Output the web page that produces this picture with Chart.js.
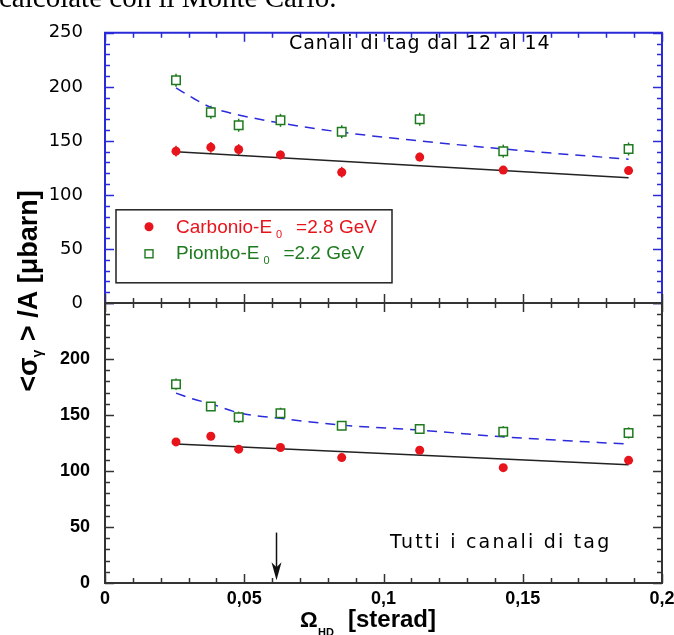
<!DOCTYPE html>
<html>
<head>
<meta charset="utf-8">
<script src="https://cdn.jsdelivr.net/npm/chart.js@4.4.1/dist/chart.umd.min.js"></script>
<style>
    html, body { margin: 0; padding: 0; background: #fff; }
    #wrap { position: relative; width: 674px; height: 635px; overflow: hidden; }
    #wrap canvas { position: absolute; left: 0; top: 0; }
</style>
</head>
<body>
<div id="wrap">
    <canvas id="topChart" width="674" height="635" style="width:674px;height:635px"></canvas>
    <canvas id="botChart" width="674" height="635" style="width:674px;height:635px"></canvas>
</div>
<script>
// solid angle of the detector (x values, shared by both panels)
var omega = [0.0255, 0.038, 0.048, 0.063, 0.085, 0.113, 0.143, 0.188];

// top panel: tag channels 12..14
var carbTop = [140.5, 144, 142, 137, 121, 135, 123, 122.5];
var carbTopErr = [5, 5, 5, 4, 5, 4, 3, 3];
var piomTop = [206, 176.5, 164.5, 169, 158.5, 170, 140.5, 142.5];
var piomTopErr = [6, 6, 6, 6, 6, 6, 6, 6];

// bottom panel: all tag channels
var carbBot = [126, 131, 119.5, 121, 112, 118.5, 103, 109.5];
var carbBotErr = [2, 2, 2, 2, 2, 2, 2, 2];
var piomBot = [177.5, 157.5, 148, 151.5, 140.5, 137.5, 135, 134];
var piomBotErr = [5, 4, 5, 5, 4, 4, 5, 5];

// fit curves
var fitLinX = [0.0255, 0.188];
var fitCarbTop = [140, 116];
var fitCarbBot = [124, 105.5];
var fitX = [0.0255, 0.032, 0.038, 0.048, 0.063, 0.085, 0.113, 0.143, 0.188];
var fitPiomTop = [199, 189, 181, 174, 166.5, 158, 150, 142.5, 133];
var fitPiomBot = [169.5, 164, 160, 152, 147, 141, 136.5, 130.5, 124];

var yTicks = [0, 50, 100, 150, 200, 250];
var xTicks = [0, 0.05, 0.1, 0.15, 0.2];

var RED = '#e8141c';
var GREEN = '#1f7a1f';
var BLUE = '#2b2bdc';
var AXIS_BLUE = '#2a2ad8';
var DARK = '#333333';

function pts(xs, ys) {
    return xs.map(function (x, i) { return { x: x, y: ys[i] }; });
}

function fmtX(v) {
    if (v === 0) return '0';
    return String(Math.round(v * 100) / 100).replace('.', ',');
}

function line(ctx, x1, y1, x2, y2) {
    ctx.beginPath();
    ctx.moveTo(x1, y1);
    ctx.lineTo(x2, y2);
    ctx.stroke();
}

// frame + inward ticks; col = {left, top, right, bottom}
function drawFrame(chart, col) {
    var ctx = chart.ctx, a = chart.chartArea;
    var xs = chart.scales.x, ys = chart.scales.y;
    ctx.save();
    ctx.lineWidth = 2;
    ctx.strokeStyle = col.left; line(ctx, a.left, a.top, a.left, a.bottom);
    ctx.strokeStyle = col.right; line(ctx, a.right, a.top, a.right, a.bottom);
    ctx.strokeStyle = col.top; line(ctx, a.left - 1, a.top, a.right + 1, a.top);
    ctx.strokeStyle = col.bottom; line(ctx, a.left - 1, a.bottom, a.right + 1, a.bottom);

    ctx.lineWidth = 1.5;
    for (var v = 0; v <= 250; v += 10) {
        var py = Math.round(ys.getPixelForValue(v)) + 0.5;
        var len = v % 50 === 0 ? 9 : 5;
        ctx.strokeStyle = col.left; line(ctx, a.left, py, a.left + len, py);
        ctx.strokeStyle = col.right; line(ctx, a.right, py, a.right - len, py);
    }
    for (var i = 0; i <= 20; i++) {
        var px = Math.round(xs.getPixelForValue(i / 100)) + 0.5;
        var l2 = i % 5 === 0 ? 9 : 5;
        ctx.strokeStyle = col.top; line(ctx, px, a.top, px, a.top + l2);
        ctx.strokeStyle = col.bottom; line(ctx, px, a.bottom, px, a.bottom - l2);
    }
    ctx.restore();
}

function drawErrors(chart, sets) {
    var ctx = chart.ctx, xs = chart.scales.x, ys = chart.scales.y;
    ctx.save();
    ctx.lineWidth = 1.5;
    sets.forEach(function (s) {
        ctx.strokeStyle = s.color;
        s.vals.forEach(function (v, i) {
            var px = xs.getPixelForValue(omega[i]);
            line(ctx, px, ys.getPixelForValue(v + s.err[i]), px, ys.getPixelForValue(v - s.err[i]));
        });
    });
    ctx.restore();
}

function spacedText(ctx, txt, x, y, spacing) {
    ctx.letterSpacing = spacing + 'px';
    ctx.fillText(txt, x, y);
    ctx.letterSpacing = '0px';
}

// legend text with E subscript 0
function legendText(ctx, x, y, head, tail, color) {
    ctx.fillStyle = color;
    ctx.font = '19px "Liberation Sans"';
    ctx.textAlign = 'left';
    ctx.textBaseline = 'alphabetic';
    ctx.fillText(head, x, y);
    var w = ctx.measureText(head).width;
    ctx.font = '11px "Liberation Sans"';
    ctx.fillText('0', x + w + 4, y + 5);
    ctx.font = '19px "Liberation Sans"';
    ctx.fillText(tail, x + w + 24, y);
}

var topPlugin = {
    id: 'topPanel',
    beforeDatasetsDraw: function (chart) {
        drawErrors(chart, [
            { vals: carbTop, err: carbTopErr, color: RED },
            { vals: piomTop, err: piomTopErr, color: GREEN }
        ]);
    },
    afterDraw: function (chart) {
        var ctx = chart.ctx, a = chart.chartArea;
        drawFrame(chart, { left: AXIS_BLUE, top: AXIS_BLUE, right: AXIS_BLUE, bottom: DARK });

        ctx.save();
        // legend box
        var lx = a.left + 11, ly = a.top + 177;
        ctx.fillStyle = '#fff';
        ctx.fillRect(lx, ly, 276, 73);
        ctx.strokeStyle = '#222';
        ctx.lineWidth = 1.5;
        ctx.strokeRect(lx, ly, 276, 73);
        ctx.fillStyle = RED;
        ctx.beginPath();
        ctx.arc(lx + 33, ly + 17, 4.5, 0, Math.PI * 2);
        ctx.fill();
        ctx.strokeStyle = GREEN;
        ctx.lineWidth = 1.4;
        ctx.strokeRect(lx + 29, ly + 40, 8, 8);
        legendText(ctx, lx + 60, ly + 23, 'Carbonio-E', '=2.8 GeV', RED);
        legendText(ctx, lx + 60, ly + 49, 'Piombo-E', '=2.2 GeV', GREEN);

        // panel label
        ctx.fillStyle = '#000';
        ctx.font = '19px "DejaVu Sans"';
        ctx.textAlign = 'left';
        ctx.textBaseline = 'alphabetic';
        spacedText(ctx, 'Canali di tag dal 12 al 14', 289, 49, 0.9);

        // clipped caption line above the chart
        ctx.font = '29px "Liberation Serif"';
        ctx.fillText('calcolate con il Monte Carlo.', -1, 7);

        // y axis title
        ctx.translate(37, 291);
        ctx.rotate(-Math.PI / 2);
        ctx.font = 'bold 27px "Liberation Sans"';
        var p1 = '<\u03c3', p3 = ' > /A [\u03bcbarn]';
        var w1 = ctx.measureText(p1).width, w3 = ctx.measureText(p3).width;
        ctx.font = 'bold 14px "Liberation Sans"';
        var w2 = ctx.measureText('\u03b3').width;
        var x0 = -(w1 + w2 + w3 + 1) / 2;
        ctx.font = 'bold 27px "Liberation Sans"';
        ctx.fillText(p1, x0, 0);
        ctx.font = 'bold 14px "Liberation Sans"';
        ctx.fillText('\u03b3', x0 + w1, 5);
        ctx.font = 'bold 27px "Liberation Sans"';
        ctx.fillText(p3, x0 + w1 + w2 + 1, 0);
        ctx.restore();
    }
};

var botPlugin = {
    id: 'botPanel',
    beforeDatasetsDraw: function (chart) {
        drawErrors(chart, [
            { vals: carbBot, err: carbBotErr, color: RED },
            { vals: piomBot, err: piomBotErr, color: GREEN }
        ]);
    },
    afterDraw: function (chart) {
        var ctx = chart.ctx;
        var xs = chart.scales.x, ys = chart.scales.y;
        drawFrame(chart, { left: DARK, top: DARK, right: DARK, bottom: DARK });

        ctx.save();
        // arrow marking the nominal acceptance
        var ax = Math.round(xs.getPixelForValue(0.0615)) + 0.5;
        var aTop = ys.getPixelForValue(45), aTip = ys.getPixelForValue(2.5);
        ctx.strokeStyle = '#111';
        ctx.fillStyle = '#111';
        ctx.lineWidth = 1.5;
        line(ctx, ax, aTop, ax, aTip - 10);
        ctx.beginPath();
        ctx.moveTo(ax - 5, aTip - 18);
        ctx.lineTo(ax, aTip - 13);
        ctx.lineTo(ax + 5, aTip - 18);
        ctx.lineTo(ax, aTip);
        ctx.closePath();
        ctx.fill();

        // panel label
        ctx.fillStyle = '#000';
        ctx.font = '19px "DejaVu Sans"';
        ctx.textAlign = 'left';
        ctx.textBaseline = 'alphabetic';
        spacedText(ctx, 'Tutti i canali di tag', 390, 548, 2.2);

        // x axis title
        ctx.font = 'bold 22px "Liberation Sans"';
        ctx.fillText('\u03a9', 300, 627);
        ctx.font = 'bold 11px "Liberation Sans"';
        ctx.fillText('HD', 318, 636);
        ctx.font = 'bold 24px "Liberation Sans"';
        ctx.fillText('[sterad]', 348, 627);
        ctx.restore();
    }
};

function baseDatasets(carb, piom, fitCarb, fitPiom) {
    return [
        { data: pts(omega, carb), pointStyle: 'circle', pointRadius: 4.5, backgroundColor: RED, borderColor: RED, borderWidth: 0 },
        { data: pts(omega, piom), pointStyle: 'rect', pointRadius: 6, backgroundColor: '#fff', borderColor: GREEN, borderWidth: 1.5 },
        { data: pts(fitLinX, fitCarb), showLine: true, pointRadius: 0, borderColor: '#222', borderWidth: 1.5 },
        { data: pts(fitX, fitPiom), showLine: true, pointRadius: 0, borderColor: BLUE, borderWidth: 1.5,
          borderDash: [10, 7], cubicInterpolationMode: 'monotone' }
    ];
}

var noGrid = { display: false, drawTicks: false, tickLength: 0 };

new Chart(document.getElementById('topChart'), {
    type: 'scatter',
    data: { datasets: baseDatasets(carbTop, piomTop, fitCarbTop, fitPiomTop) },
    options: {
        responsive: false,
        animation: false,
        devicePixelRatio: 1,
        events: [],
        layout: { padding: { left: 0, right: 12, top: 23, bottom: 332 } },
        plugins: { legend: { display: false }, tooltip: { enabled: false } },
        scales: {
            x: { type: 'linear', min: 0, max: 0.2, display: false },
            y: {
                type: 'linear', min: 0, max: 250,
                afterBuildTicks: function (s) { s.ticks = yTicks.map(function (v) { return { value: v }; }); },
                ticks: { color: '#000', padding: 22, font: { family: 'DejaVu Sans', size: 18 } },
                grid: noGrid,
                border: { display: false },
                afterFit: function (s) { s.width = 105; }
            }
        }
    },
    plugins: [topPlugin]
});

new Chart(document.getElementById('botChart'), {
    type: 'scatter',
    data: { datasets: baseDatasets(carbBot, piomBot, fitCarbBot, fitPiomBot) },
    options: {
        responsive: false,
        animation: false,
        devicePixelRatio: 1,
        events: [],
        layout: { padding: { left: 0, right: 12, top: 303, bottom: 0 } },
        plugins: { legend: { display: false }, tooltip: { enabled: false } },
        scales: {
            x: {
                type: 'linear', min: 0, max: 0.2,
                afterBuildTicks: function (s) { s.ticks = xTicks.map(function (v) { return { value: v }; }); },
                ticks: {
                    color: '#000', padding: 5, maxRotation: 0, autoSkip: false,
                    font: { family: 'Liberation Sans', size: 18, weight: 'bold' },
                    callback: function (v) { return fmtX(v); }
                },
                grid: noGrid,
                border: { display: false },
                afterFit: function (s) { s.height = 52; s.paddingLeft = 0; s.paddingRight = 0; }
            },
            y: {
                type: 'linear', min: 0, max: 250,
                afterBuildTicks: function (s) { s.ticks = yTicks.map(function (v) { return { value: v }; }); },
                ticks: {
                    color: '#000', padding: 15,
                    font: { family: 'Liberation Sans', size: 18, weight: 'bold' },
                    callback: function (v) { return v === 250 ? '' : v; }
                },
                grid: noGrid,
                border: { display: false },
                afterFit: function (s) { s.width = 105; }
            }
        }
    },
    plugins: [botPlugin]
});
</script>
</body>
</html>
